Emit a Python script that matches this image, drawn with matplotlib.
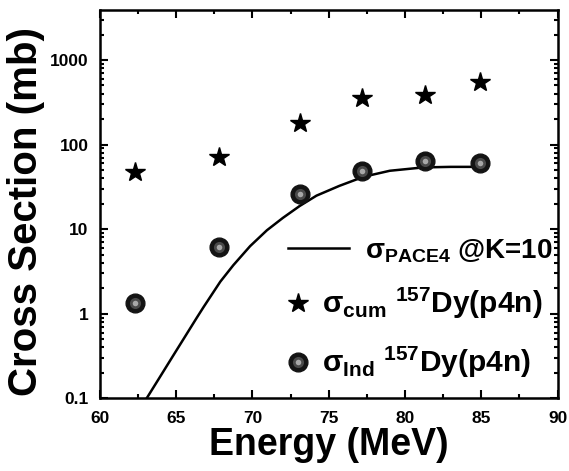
import matplotlib
matplotlib.use("Agg")
import matplotlib.pyplot as plt
from matplotlib.ticker import LogLocator, NullFormatter, FixedLocator, MultipleLocator

plt.rcParams['font.family'] = ['Liberation Sans', 'DejaVu Sans']
plt.rcParams['font.weight'] = 'bold'
plt.rcParams['mathtext.fontset'] = 'custom'
plt.rcParams['mathtext.rm'] = 'Liberation Sans:bold'
plt.rcParams['mathtext.bf'] = 'Liberation Sans:bold'
plt.rcParams['mathtext.it'] = 'Liberation Sans:bold'
plt.rcParams['mathtext.default'] = 'bf'

# measured points
energy = [62.3, 67.8, 73.1, 77.2, 81.3, 84.9]
sigma_cum = [48, 72, 181, 352, 386, 554]
sigma_ind = [1.33, 6.2, 26, 49, 64.5, 60]

# PACE4 curve, K=10
energy_pace = [63.07, 63.9, 64.8, 65.6, 66.35, 66.8, 67.9, 68.75, 69.85, 70.95,
               72.0, 73.1, 74.2, 75.7, 77.3, 79.0, 81.2, 83.0, 85.0]
sigma_pace = [0.1, 0.174, 0.318, 0.542, 0.894, 1.2, 2.4, 3.75, 6.3, 9.7,
              13.6, 18.8, 24.9, 32.5, 41.7, 49, 53.7, 54.5, 54.5]

xticks = [60, 65, 70, 75, 80, 85, 90]
yticks = [0.1, 1, 10, 100, 1000]
ytick_labels = ['0.1', '1', '10', '100', '1000']

fig = plt.figure(figsize=(5.69, 4.71), dpi=100)
ax = fig.add_axes([0.1754, 0.1543, 0.8046, 0.8245])

line, = ax.plot(energy_pace, sigma_pace, color='black', lw=1.8)
stars, = ax.plot(energy, sigma_cum, ls='none', marker='*', ms=15, color='black')
ball, = ax.plot(energy, sigma_ind, ls='none', marker='o', ms=13.5, color='#141414')
shade, = ax.plot(energy, sigma_ind, ls='none', marker='o', ms=8, color='#4a4a4a', mec='none')
spot, = ax.plot(energy, sigma_ind, ls='none', marker='o', ms=4, color='#a8a8a8', mec='none')

ax.set_yscale('log')
ax.set_xlim(60, 90)
ax.set_ylim(0.1, 3900)
ax.xaxis.set_major_locator(FixedLocator(xticks))
ax.xaxis.set_minor_locator(MultipleLocator(2.5))
ax.yaxis.set_major_locator(FixedLocator(yticks))
ax.set_yticklabels(ytick_labels)
ax.yaxis.set_minor_locator(LogLocator(base=10, subs=range(2, 10), numticks=20))
ax.yaxis.set_minor_formatter(NullFormatter())

for s in ax.spines.values():
    s.set_linewidth(1.8)
ax.tick_params(which='both', direction='in', top=True, right=True, width=1.5)
ax.tick_params(which='major', length=6, labelsize=12.5)
ax.tick_params(axis='x', which='major', pad=9)
ax.tick_params(axis='y', which='major', pad=8)
ax.tick_params(which='minor', length=3)

ax.set_xlabel('Energy (MeV)', fontsize=27, fontweight='bold', labelpad=1)
ax.set_ylabel('Cross Section (mb)', fontsize=29, fontweight='bold')
ax.yaxis.set_label_coords(-0.12, 0.482)

leg1 = ax.legend([line], [r'$\sigma_{PACE4}$ @K=10'], loc='center left',
                 bbox_to_anchor=(0.38, 0.38), frameon=False, fontsize=20,
                 handlelength=2.2, handletextpad=0.6, borderpad=0)
ax.add_artist(leg1)
ax.legend([stars, (ball, shade, spot)],
          [r'$\sigma_{cum}$ $^{157}$Dy(p4n)', r'$\sigma_{Ind}$ $^{157}$Dy(p4n)'],
          loc='upper left', bbox_to_anchor=(0.381, 0.328), frameon=False, fontsize=21.5,
          handlelength=0.6, handletextpad=0.5, labelspacing=0.8, borderpad=0)

fig.savefig('out.png', dpi=100)
